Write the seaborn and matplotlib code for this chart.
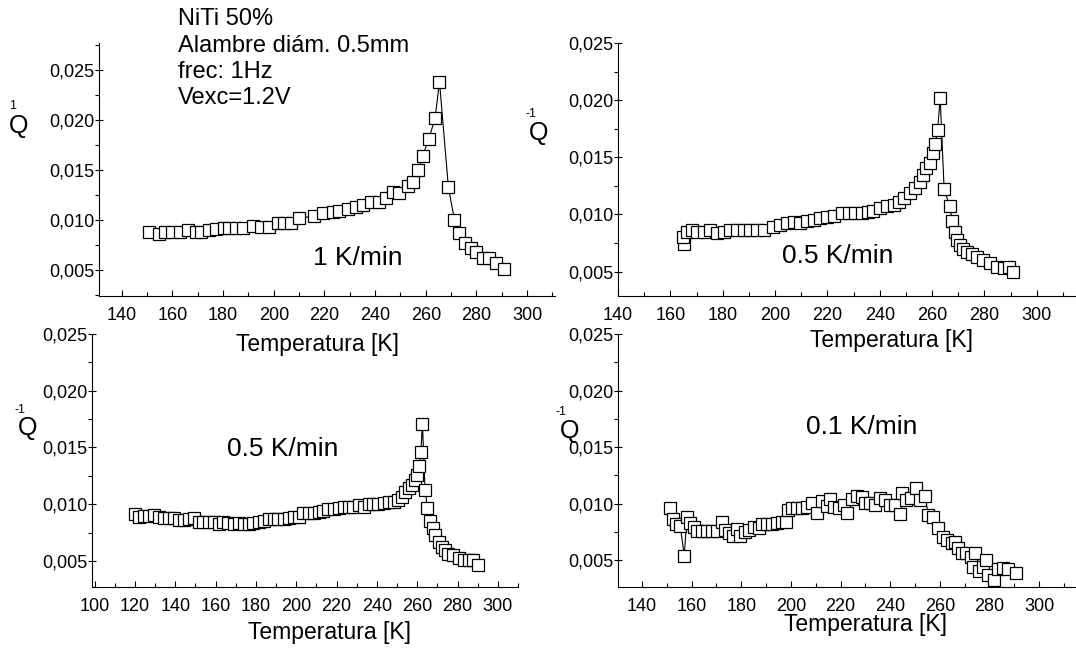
import numpy as np
import pandas as pd
import matplotlib
matplotlib.use("Agg")
import matplotlib.pyplot as plt
from matplotlib.ticker import MultipleLocator, FuncFormatter
import seaborn as sns

sns.set_style("ticks")
plt.rcParams['font.family'] = ['Liberation Sans', 'DejaVu Sans']
for k in ('text.color', 'axes.labelcolor', 'xtick.color', 'ytick.color', 'axes.edgecolor'):
    plt.rcParams[k] = 'black'

# 1 K/min
t_1k = [150.7, 154.6, 157.2, 160.0, 162.8, 166.0, 169.3, 171.3, 174.6, 177.2, 180.5, 182.5,
        185.1, 187.8, 191.7, 195.0, 198.3, 201.6, 204.2, 206.8, 210.1, 215.7, 219.3, 223.3,
        225.9, 229.2, 232.5, 235.1, 238.4, 241.7, 244.3, 247.2, 249.6, 252.9, 254.9, 257.1,
        258.8, 261.2, 263.7, 265.4, 268.9, 271.3, 273.3, 275.3, 277.9, 279.9, 282.5, 285.1,
        287.8, 291.0]
q_1k = [0.00877, 0.00857, 0.00877, 0.00877, 0.00877, 0.0090, 0.00883, 0.00877, 0.0090, 0.00907,
        0.00923, 0.00917, 0.00923, 0.00923, 0.0094, 0.00933, 0.00933, 0.00967, 0.00967, 0.00973,
        0.01017, 0.0104, 0.01067, 0.01083, 0.0109, 0.01107, 0.01133, 0.0115, 0.01183, 0.01183,
        0.01217, 0.01283, 0.01273, 0.0134, 0.01383, 0.0150, 0.01643, 0.0181, 0.02023, 0.02383,
        0.01333, 0.0100, 0.00867, 0.00767, 0.00717, 0.00683, 0.00617, 0.00617, 0.00567, 0.00507]

# 0.5 K/min (top right)
t_05a = [165.3, 164.8, 166.3, 168.3, 170.2, 172.7, 175.3, 177.8, 180.4, 182.9, 185.4, 188.0,
         190.5, 193.1, 195.6, 199.4, 202.0, 204.5, 207.1, 209.6, 212.2, 214.7, 217.3, 219.8,
         222.4, 225.5, 228.1, 230.6, 233.2, 235.7, 237.6, 240.2, 242.7, 245.3, 247.2, 249.1,
         251.6, 253.5, 255.2, 256.7, 257.7, 259.3, 260.3, 261.2, 262.1, 263.1, 264.6, 266.7,
         267.7, 268.6, 269.5, 270.5, 271.8, 273.3, 275.2, 277.1, 279.6, 282.2, 284.7, 287.3,
         289.2, 290.8]
q_05a = [0.0074, 0.00807, 0.00845, 0.00865, 0.0085, 0.0085, 0.00865, 0.00836, 0.0085, 0.00865,
         0.00865, 0.00865, 0.00865, 0.00865, 0.00865, 0.00894, 0.00909, 0.00923, 0.00938, 0.00923,
         0.00944, 0.00953, 0.00967, 0.00982, 0.00988, 0.01011, 0.01011, 0.01011, 0.01017, 0.01026,
         0.01031, 0.01055, 0.0107, 0.01084, 0.01113, 0.01142, 0.01186, 0.0123, 0.01288, 0.01347,
         0.01405, 0.01449, 0.01536, 0.01618, 0.01741, 0.02018, 0.01221, 0.01075, 0.00947, 0.00845,
         0.00777, 0.00734, 0.00696, 0.00675, 0.00652, 0.00631, 0.00602, 0.00573, 0.00544, 0.00535,
         0.00544, 0.0050]

# 0.5 K/min (bottom left)
t_05b = [120.2, 121.8, 124.3, 126.8, 129.3, 131.7, 134.2, 136.7, 139.2, 141.7, 144.1, 146.6,
         149.1, 151.6, 154.0, 156.5, 159.0, 161.5, 163.9, 166.4, 168.9, 171.4, 173.9, 176.4,
         178.8, 181.3, 183.8, 186.3, 188.8, 191.2, 193.7, 196.2, 198.7, 201.2, 203.6, 206.1,
         208.6, 211.1, 213.5, 216.0, 218.5, 221.0, 223.5, 226.0, 228.4, 230.9, 233.4, 235.9,
         238.3, 240.8, 243.3, 245.8, 248.3, 250.7, 252.4, 254.0, 255.7, 257.3, 259.0, 260.1,
         261.1, 261.8, 262.6, 263.9, 265.1, 266.4, 267.6, 268.9, 270.6, 272.2, 273.9, 275.5,
         278.0, 280.5, 283.0, 285.5, 287.9, 290.4]
q_05b = [0.00911, 0.0089, 0.00896, 0.00896, 0.00905, 0.0089, 0.00875, 0.00875, 0.00875, 0.0086,
         0.0086, 0.00866, 0.00875, 0.00846, 0.00846, 0.00846, 0.00846, 0.00825, 0.00846, 0.00837,
         0.00825, 0.00831, 0.00825, 0.00825, 0.00831, 0.00846, 0.00852, 0.00866, 0.00866, 0.00866,
         0.00866, 0.00875, 0.00884, 0.0089, 0.0092, 0.0092, 0.00925, 0.00934, 0.0094, 0.00955,
         0.00955, 0.0097, 0.00979, 0.00979, 0.00979, 0.00993, 0.00979, 0.00999, 0.00999, 0.00999,
         0.01008, 0.01023, 0.01023, 0.01038, 0.01067, 0.01111, 0.01141, 0.01171, 0.01215, 0.0126,
         0.01333, 0.01457, 0.01711, 0.01126, 0.00964, 0.00852, 0.00787, 0.00727, 0.00668, 0.00624,
         0.00594, 0.00565, 0.0055, 0.0053, 0.00512, 0.00506, 0.00512, 0.00468]

# 0.1 K/min
t_01 = [151.4, 152.5, 153.8, 155.4, 157.0, 158.1, 159.5, 160.8, 162.1, 164.2, 166.2, 168.2,
        170.2, 172.2, 173.6, 174.9, 176.6, 178.3, 179.6, 181.6, 183.0, 185.0, 187.0, 188.3,
        190.3, 192.3, 194.4, 196.4, 198.1, 198.7, 200.4, 202.4, 204.4, 206.4, 208.5, 210.5,
        212.5, 214.5, 215.6, 217.2, 219.2, 221.2, 222.8, 224.6, 226.6, 228.6, 229.9, 231.9,
        234.0, 236.0, 238.0, 240.0, 242.0, 243.8, 244.7, 246.4, 248.3, 250.4, 252.0, 254.0,
        255.4, 257.4, 259.4, 261.4, 263.0, 264.8, 266.1, 267.4, 268.8, 270.5, 272.4, 273.2,
        274.2, 275.9, 277.5, 278.8, 279.5, 281.8, 283.5, 285.5, 287.5, 290.6]
q_01 = [0.00965, 0.00861, 0.0082, 0.00802, 0.00541, 0.00885, 0.00826, 0.00796, 0.00761, 0.00761,
        0.00761, 0.00761, 0.00761, 0.0084, 0.00767, 0.00737, 0.00713, 0.00773, 0.00713, 0.00752,
        0.00767, 0.00796, 0.00781, 0.0082, 0.0082, 0.0082, 0.00826, 0.0084, 0.0084, 0.00944,
        0.00959, 0.00959, 0.00959, 0.00974, 0.0101, 0.00921, 0.01019, 0.0098, 0.01039, 0.00974,
        0.00959, 0.00989, 0.00921, 0.01039, 0.01069, 0.01063, 0.0101, 0.01004, 0.00989, 0.01048,
        0.01033, 0.00989, 0.00989, 0.00909, 0.01093, 0.01033, 0.01048, 0.01137, 0.01033, 0.01069,
        0.0090, 0.00885, 0.00781, 0.00707, 0.00678, 0.00654, 0.00663, 0.00604, 0.0056, 0.0056,
        0.0053, 0.00441, 0.0056, 0.00405, 0.00441, 0.005, 0.00367, 0.00328, 0.00426, 0.00435,
        0.00426, 0.00391]

W, H = 1076, 655
fig = plt.figure(figsize=(W / 100, H / 100), dpi=100)


def rect(left, top, right, bottom):
    return [left / W, 1 - bottom / H, (right - left) / W, (bottom - top) / H]


panels = [
    (rect(99, 43, 555, 296), t_1k, q_1k, (131, 311), (0.0024, 0.0277), 140),
    (rect(618, 43, 1075, 296), t_05a, q_05a, (140, 314.6), (0.00287, 0.025), 140),
    (rect(92, 334, 518, 587), t_05b, q_05b, (98.7, 310), (0.0027, 0.025), 100),
    (rect(618, 334, 1075, 587), t_01, q_01, (130.3, 314.5), (0.00263, 0.025), 140),
]

fmt = FuncFormatter(lambda v, p: f'{v:.3f}'.replace('.', ','))
for pos, t, q, xl, yl, x0 in panels:
    ax = fig.add_axes(pos)
    df = pd.DataFrame({'T': t, 'Q': q})
    sns.lineplot(data=df, x='T', y='Q', ax=ax, sort=False, estimator=None,
                 color='black', lw=0.8, marker='s', markersize=8,
                 markerfacecolor='white', markeredgecolor='black', markeredgewidth=0.9)
    ax.set_xlim(*xl)
    ax.set_ylim(*yl)
    ax.set_xticks(np.arange(x0, 301, 20))
    ax.xaxis.set_minor_locator(MultipleLocator(10))
    ax.set_yticks([0.005, 0.010, 0.015, 0.020, 0.025])
    ax.yaxis.set_minor_locator(MultipleLocator(0.0025))
    ax.yaxis.set_major_formatter(fmt)
    ax.tick_params(axis='x', which='major', direction='in', length=4, width=0.8,
                   labelsize=13, pad=8)
    ax.tick_params(axis='x', which='minor', direction='in', length=3, width=0.8)
    ax.tick_params(axis='y', which='major', direction='inout', length=6, width=0.8,
                   labelsize=13, pad=0)
    ax.tick_params(axis='y', which='minor', direction='out', length=3, width=0.8)
    sns.despine(ax=ax)
    for s in ('left', 'bottom'):
        ax.spines[s].set_linewidth(0.8)
    ax.set_xlabel('')
    ax.set_ylabel('')
    ax.patch.set_alpha(0)

# axis titles
fs_lab = 16.5
fig.text(318 / W, 1 - 345 / H, 'Temperatura [K]', ha='center', va='center', fontsize=fs_lab)
fig.text(892 / W, 1 - 340 / H, 'Temperatura [K]', ha='center', va='center', fontsize=fs_lab)
fig.text(330 / W, 1 - 632 / H, 'Temperatura [K]', ha='center', va='center', fontsize=fs_lab)
fig.text(865 / W, 1 - 625 / H, 'Temperatura [K]', ha='center', va='center', fontsize=fs_lab)

# Q^-1 labels
for qx, qy, sx, sy, sup in [(19, 126, 13, 106, '1'), (539, 133, 531, 114, '-1'),
                            (28, 428, 20, 410, '-1'), (570, 431, 561, 412, '-1')]:
    fig.text(qx / W, 1 - qy / H, 'Q', ha='center', va='center', fontsize=18)
    fig.text(sx / W, 1 - sy / H, sup, ha='center', va='center', fontsize=9)

# rate labels
fs_rate = 19
fig.text(358 / W, 1 - 258 / H, '1 K/min', ha='center', va='center', fontsize=fs_rate)
fig.text(838 / W, 1 - 256 / H, '0.5 K/min', ha='center', va='center', fontsize=fs_rate)
fig.text(283 / W, 1 - 449 / H, '0.5 K/min', ha='center', va='center', fontsize=fs_rate)
fig.text(862 / W, 1 - 427 / H, '0.1 K/min', ha='center', va='center', fontsize=fs_rate)

# sample info
info = ['NiTi 50%', 'Alambre diám. 0.5mm', 'frec: 1Hz', 'Vexc=1.2V']
for i, line in enumerate(info):
    fig.text(178 / W, 1 - (19 + 26.5 * i) / H, line, ha='left', va='center', fontsize=17)

fig.savefig('out.png', dpi=100)
